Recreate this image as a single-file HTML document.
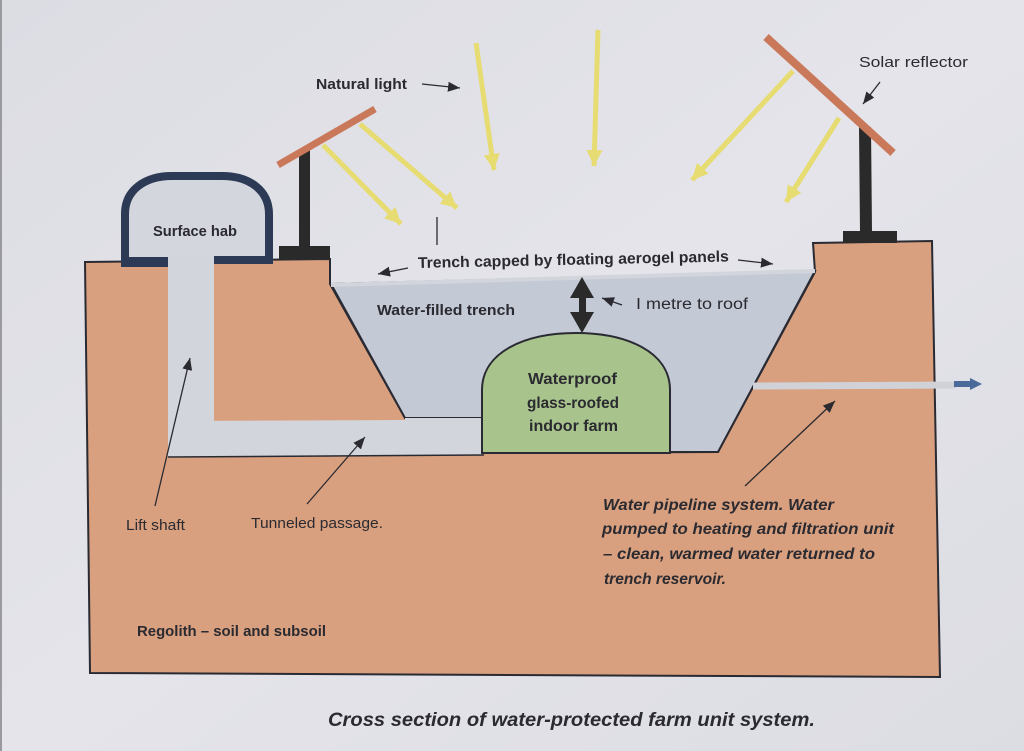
<!DOCTYPE html>
<html>
<head>
<meta charset="utf-8">
<style>
html,body{margin:0;padding:0;background:#e0e0e6;}
svg{display:block;}
text{font-family:"Liberation Sans",sans-serif;fill:#2a2a30;}
</style>
</head>
<body>
<svg width="1024" height="751" viewBox="0 0 1024 751" xmlns="http://www.w3.org/2000/svg">
<defs>
<linearGradient id="bg" x1="0" y1="0" x2="1" y2="1">
<stop offset="0" stop-color="#dcdce3"/>
<stop offset="0.5" stop-color="#e4e4ea"/>
<stop offset="1" stop-color="#dcdde3"/>
</linearGradient>
<marker id="ya" markerUnits="userSpaceOnUse" markerWidth="20" markerHeight="20" refX="16" refY="8" orient="auto">
<path d="M0,0 L16,8 L0,16 Z" fill="#e6dc72"/>
</marker>
<marker id="ka" markerUnits="userSpaceOnUse" markerWidth="14" markerHeight="12" refX="12" refY="5" orient="auto">
<path d="M0,0 L12,5 L0,10 Z" fill="#2a2a30"/>
</marker>
</defs>
<rect width="1024" height="751" fill="url(#bg)"/>
<rect x="0" y="0" width="2" height="751" fill="#9a9a9e"/>

<!-- soil -->
<polygon points="85,262 330,259 330,284 405,418 482,418 482,453 718,452 815,272 813,243 932,241 940,677 90,673" fill="#d9a07f" stroke="#2a2a33" stroke-width="2" stroke-linejoin="miter"/>

<!-- water -->
<polygon points="331,284 815,271 718,452 482,452 482,418 405,418" fill="#c4c9d6" stroke="#2a2a33" stroke-width="2"/>
<line x1="331" y1="285" x2="815" y2="271" stroke="#d2d5dc" stroke-width="4"/>

<!-- tunnel & shaft -->
<rect x="168" y="257" width="46" height="199" fill="#d3d5dc"/>
<polygon points="168,421 405,420 405,418 482,418 482,455 168,457" fill="#d3d5dc"/>
<line x1="168" y1="457" x2="484" y2="455" stroke="#2a2a33" stroke-width="1.5"/>

<!-- farm dome -->
<path d="M482,453 L482,390 C482,352 525,333 576,333 C627,333 670,352 670,390 L670,453 Z" fill="#a8c48c" stroke="#2a2a33" stroke-width="2"/>

<!-- surface hab -->
<path d="M125,263 V214 C125,190 145,176 172,176 H222 C249,176 269,190 269,214 V263" fill="#d4d6dd" stroke="#2c3a55" stroke-width="8"/>
<rect x="121" y="257" width="47" height="10" fill="#2c3a55"/>
<rect x="214" y="256" width="59" height="8" fill="#2c3a55"/>
<rect x="168" y="256" width="46" height="8" fill="#d3d5dc"/>

<!-- left reflector -->
<rect x="299" y="150" width="11" height="97" fill="#2a2a2a"/>
<rect x="279" y="246" width="51" height="13" fill="#2a2a2a"/>
<line x1="278" y1="165" x2="375" y2="109" stroke="#c9795a" stroke-width="7" stroke-linecap="butt"/>

<!-- right reflector -->
<polygon points="859,127 871,127 872,232 860,232" fill="#2a2a2a"/>
<rect x="843" y="231" width="54" height="12" fill="#2a2a2a"/>
<line x1="766" y1="37" x2="893" y2="153" stroke="#c9795a" stroke-width="8"/>

<!-- yellow light arrows -->
<g stroke="#e6dc72" stroke-width="5" fill="none">
<line x1="323" y1="145" x2="401" y2="224" marker-end="url(#ya)"/>
<line x1="360" y1="124" x2="457" y2="208" marker-end="url(#ya)"/>
<line x1="476" y1="43" x2="494" y2="170" marker-end="url(#ya)"/>
<line x1="598" y1="30" x2="594" y2="166" marker-end="url(#ya)"/>
<line x1="793" y1="71" x2="692" y2="180" marker-end="url(#ya)"/>
<line x1="839" y1="118" x2="786" y2="202" marker-end="url(#ya)"/>
</g>

<!-- pipe -->
<line x1="753" y1="386" x2="956" y2="385" stroke="#d0d2d8" stroke-width="7"/>
<line x1="954" y1="384" x2="972" y2="384" stroke="#4a6a9c" stroke-width="6"/>
<path d="M970,378 L982,384 L970,390 Z" fill="#4a6a9c"/>

<!-- double arrow -->
<rect x="579" y="293" width="7" height="24" fill="#2a2a2a"/>
<path d="M582,277 L594,298 L570,298 Z" fill="#2a2a2a"/>
<path d="M582,333 L594,312 L570,312 Z" fill="#2a2a2a"/>

<!-- thin black pointer arrows -->
<g stroke="#2a2a30" stroke-width="1.3" fill="none">
<line x1="422" y1="84" x2="460" y2="88" marker-end="url(#ka)"/>
<line x1="880" y1="82" x2="863" y2="104" marker-end="url(#ka)"/>
<line x1="408" y1="268" x2="378" y2="274" marker-end="url(#ka)"/>
<line x1="738" y1="260" x2="773" y2="264" marker-end="url(#ka)"/>
<line x1="622" y1="305" x2="602" y2="298" marker-end="url(#ka)"/>
<line x1="155" y1="506" x2="190" y2="358" marker-end="url(#ka)"/>
<line x1="307" y1="504" x2="365" y2="437" marker-end="url(#ka)"/>
<line x1="745" y1="486" x2="835" y2="401" marker-end="url(#ka)"/>
<line x1="437" y1="217" x2="437" y2="245"/>
</g>

<!-- labels -->
<text x="316" y="89" font-size="15" font-weight="bold" textLength="91" lengthAdjust="spacingAndGlyphs">Natural light</text>
<text x="859" y="67" font-size="15" textLength="109" lengthAdjust="spacingAndGlyphs">Solar reflector</text>
<text x="153" y="236" font-size="15" font-weight="bold" textLength="84" lengthAdjust="spacingAndGlyphs">Surface hab</text>
<text x="418" y="268" font-size="15.5" font-weight="bold" textLength="311" lengthAdjust="spacingAndGlyphs" transform="rotate(-1.2 418 268)">Trench capped by floating aerogel panels</text>
<text x="377" y="315" font-size="15" font-weight="bold" textLength="138" lengthAdjust="spacingAndGlyphs">Water-filled trench</text>
<text x="636" y="309" font-size="15.5" textLength="112" lengthAdjust="spacingAndGlyphs">I metre to roof</text>
<text x="528" y="384" font-size="15.5" font-weight="bold" textLength="89" lengthAdjust="spacingAndGlyphs">Waterproof</text>
<text x="527" y="408" font-size="15.5" font-weight="bold" textLength="92" lengthAdjust="spacingAndGlyphs">glass-roofed</text>
<text x="529" y="431" font-size="15.5" font-weight="bold" textLength="89" lengthAdjust="spacingAndGlyphs">indoor farm</text>
<text x="126" y="530" font-size="15" textLength="59" lengthAdjust="spacingAndGlyphs">Lift shaft</text>
<text x="251" y="528" font-size="15" textLength="132" lengthAdjust="spacingAndGlyphs">Tunneled passage.</text>
<text x="137" y="636" font-size="15" font-weight="bold" textLength="189" lengthAdjust="spacingAndGlyphs">Regolith – soil and subsoil</text>
<g font-size="15.5" font-weight="bold" font-style="italic">
<text x="603" y="510" textLength="231" lengthAdjust="spacingAndGlyphs">Water pipeline system. Water</text>
<text x="602" y="534" textLength="292" lengthAdjust="spacingAndGlyphs">pumped to heating and filtration unit</text>
<text x="603" y="559" textLength="272" lengthAdjust="spacingAndGlyphs">– clean, warmed water returned to</text>
<text x="604" y="584" textLength="122" lengthAdjust="spacingAndGlyphs">trench reservoir.</text>
</g>
<text x="328" y="726" font-size="19.5" font-weight="bold" font-style="italic" textLength="487" lengthAdjust="spacingAndGlyphs">Cross section of water-protected farm unit system.</text>
</svg>
</body>
</html>
